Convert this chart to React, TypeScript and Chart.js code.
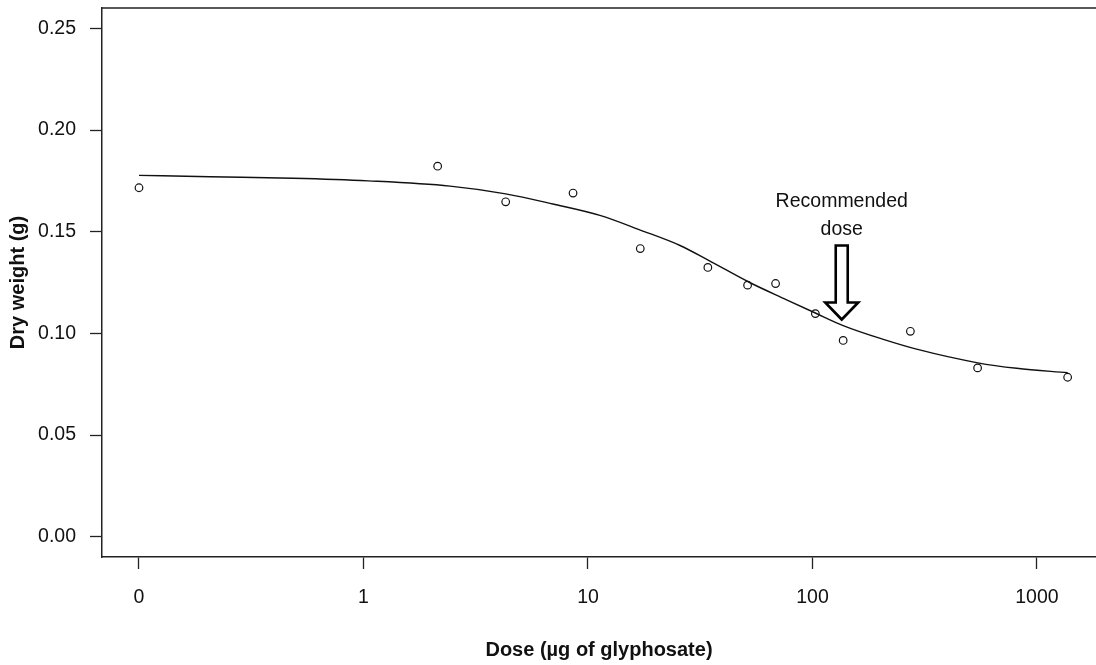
import React, { useEffect, useRef } from "react";
import { Chart, registerables } from "chart.js";

Chart.register(...registerables);

// Observed data (dose in µg of glyphosate, dry weight in g)
const doses = [0, 2.14, 4.3, 8.58, 17.1, 34.2, 51.4, 68.5, 103, 137, 273, 544, 1370];
const dryWeight = [0.1716, 0.1822, 0.1647, 0.169, 0.1417, 0.1324, 0.1237, 0.1245, 0.1097, 0.0965, 0.101, 0.083, 0.0784];

// Fitted curve
const curveDoses = [0, 0.207, 0.485, 1.05, 2.43, 4.3, 6.98, 11.3, 17.1, 25.7, 34.3, 52.5, 76.7, 103, 137, 207, 291, 545, 813, 1370];
const curveWeight = [0.1777, 0.177, 0.1763, 0.175, 0.1724, 0.1686, 0.1636, 0.158, 0.1508, 0.1432, 0.136, 0.125, 0.1165, 0.11, 0.1038, 0.097, 0.0922, 0.0855, 0.0828, 0.0806];

const xTickDoses = [0, 1, 10, 100, 1000];
const xTickLabels = ["0", "1", "10", "100", "1000"];
const yTicks = [0, 0.05, 0.1, 0.15, 0.2, 0.25];
const yTickLabels = ["0.00", "0.05", "0.10", "0.15", "0.20", "0.25"];

const recommendedDose = 135;
const arrowTop = 0.1432;
const arrowHeadBase = 0.1152;
const arrowTip = 0.1068;
const annotationLines = ["Recommended", "dose"];

const FONT = "'Liberation Sans', Arial, sans-serif";

// zero dose is drawn one decade below 1, as in the original plot
const toX = (d: number) => (d === 0 ? -1 : Math.log10(d));

const zeroPad = (s: any) => {
  s.paddingTop = 0;
  s.paddingBottom = 0;
  s.paddingLeft = 0;
  s.paddingRight = 0;
};

const boxPlugin = {
  id: "boxTop",
  afterDraw(chart: any) {
    const { ctx, chartArea } = chart;
    ctx.save();
    ctx.strokeStyle = "#222";
    ctx.lineWidth = 1.5;
    ctx.beginPath();
    ctx.moveTo(chartArea.left, chartArea.top);
    ctx.lineTo(chartArea.right, chartArea.top);
    ctx.stroke();
    ctx.restore();
  },
};

const arrowPlugin = {
  id: "recArrow",
  afterDatasetsDraw(chart: any) {
    const { ctx } = chart;
    const xs = chart.scales.x;
    const ys = chart.scales.y;
    const cx = xs.getPixelForValue(toX(recommendedDose));
    const yT = ys.getPixelForValue(arrowTop);
    const yB = ys.getPixelForValue(arrowHeadBase);
    const yTip = ys.getPixelForValue(arrowTip);
    const sw = 6;
    const hw = 16.5;
    ctx.save();
    ctx.beginPath();
    ctx.moveTo(cx - sw, yT);
    ctx.lineTo(cx + sw, yT);
    ctx.lineTo(cx + sw, yB);
    ctx.lineTo(cx + hw, yB);
    ctx.lineTo(cx, yTip);
    ctx.lineTo(cx - hw, yB);
    ctx.lineTo(cx - sw, yB);
    ctx.closePath();
    ctx.fillStyle = "#fff";
    ctx.fill();
    ctx.strokeStyle = "#000";
    ctx.lineWidth = 2.6;
    ctx.lineJoin = "miter";
    ctx.stroke();
    ctx.fillStyle = "#111";
    ctx.font = `19.5px ${FONT}`;
    ctx.textAlign = "center";
    ctx.textBaseline = "middle";
    ctx.fillText(annotationLines[0], cx, yT - 44);
    ctx.fillText(annotationLines[1], cx, yT - 16);
    ctx.restore();
  },
};

export default function App() {
  const ref = useRef<HTMLCanvasElement | null>(null);

  useEffect(() => {
    document.body.style.margin = "0";
    if (!ref.current) return;
    const chart = new Chart(ref.current, {
      type: "scatter",
      data: {
        datasets: [
          {
            label: "fit",
            data: curveDoses.map((d, i) => ({ x: toX(d), y: curveWeight[i] })),
            showLine: true,
            borderColor: "#111",
            borderWidth: 1.4,
            pointRadius: 0,
            cubicInterpolationMode: "monotone",
            fill: false,
          } as any,
          {
            label: "observed",
            data: doses.map((d, i) => ({ x: toX(d), y: dryWeight[i] })),
            showLine: false,
            pointRadius: 3.8,
            pointBorderWidth: 1.2,
            pointBorderColor: "#111",
            pointBackgroundColor: "rgba(255,255,255,0)",
          } as any,
        ],
      },
      options: {
        animation: false,
        responsive: false,
        maintainAspectRatio: false,
        layout: { autoPadding: false, padding: { top: 8, left: 0, right: 0, bottom: 0 } },
        plugins: {
          legend: { display: false },
          tooltip: { enabled: false },
        },
        scales: {
          x: {
            type: "linear",
            min: -1.1648,
            max: 3.263,
            afterBuildTicks: (s: any) => {
              s.ticks = xTickDoses.map((d) => ({ value: toX(d) }));
            },
            afterFit: (s: any) => {
              s.height = 108;
              zeroPad(s);
            },
            ticks: {
              autoSkip: false,
              maxRotation: 0,
              color: "#111",
              font: { family: FONT, size: 19.5 },
              padding: 17,
              callback: (_v: any, i: number) => xTickLabels[i],
            },
            grid: {
              drawOnChartArea: false,
              drawTicks: true,
              tickLength: 12,
              tickColor: "#222",
              tickWidth: 1.3,
            },
            border: { display: true, color: "#222", width: 1.5 },
            title: {
              display: true,
              text: "Dose (µg of glyphosate)",
              color: "#111",
              font: { family: FONT, size: 20, weight: "bold" },
              padding: { top: 0, bottom: 3 },
            },
          },
          y: {
            type: "linear",
            min: -0.01,
            max: 0.26,
            afterBuildTicks: (s: any) => {
              s.ticks = yTicks.map((v) => ({ value: v }));
            },
            afterFit: (s: any) => {
              s.width = 102;
              zeroPad(s);
            },
            ticks: {
              autoSkip: false,
              color: "#111",
              font: { family: FONT, size: 19.5 },
              padding: 14,
              callback: (_v: any, i: number) => yTickLabels[i],
            },
            grid: {
              drawOnChartArea: false,
              drawTicks: true,
              tickLength: 12,
              tickColor: "#222",
              tickWidth: 1.3,
            },
            border: { display: true, color: "#222", width: 1.5 },
            title: {
              display: true,
              text: "Dry weight (g)",
              color: "#111",
              font: { family: FONT, size: 20, weight: "bold" },
              padding: { top: 6, bottom: 0 },
            },
          },
        },
      } as any,
      plugins: [boxPlugin, arrowPlugin],
    });
    return () => chart.destroy();
  }, []);

  return (
    <div style={{ width: 1096, height: 665, background: "#fff" }}>
      <canvas ref={ref} width={1096} height={665} style={{ display: "block" }} />
    </div>
  );
}
